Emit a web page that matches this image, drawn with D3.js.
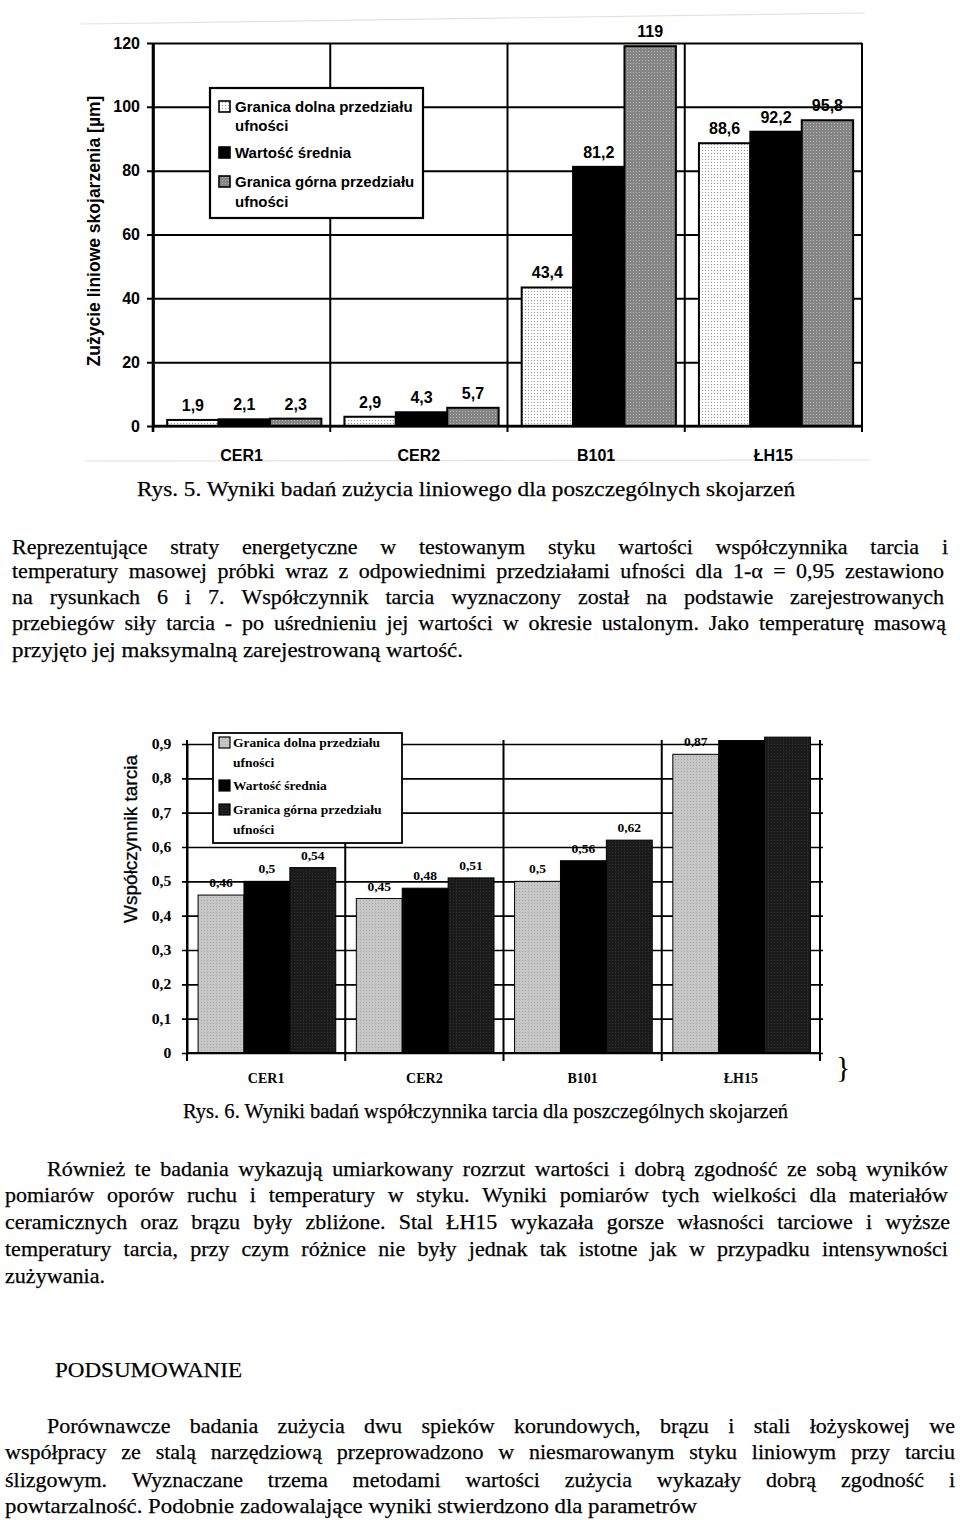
<!DOCTYPE html>
<html><head><meta charset="utf-8">
<script src="https://cdn.jsdelivr.net/npm/d3@7"></script>
<style>body{margin:0;background:#fff}svg{display:block}</style>
</head><body>
<svg id="page" width="960" height="1520"></svg>
<script>
// ---------------- DATA ----------------
const categories = ["CER1", "CER2", "B101", "ŁH15"];
const seriesKeys = ["lower", "mean", "upper"];
const legendLines = [
  ["Granica dolna przedziału", "ufności"],
  ["Wartość średnia"],
  ["Granica górna przedziału", "ufności"]
];
// Rys. 5 – linear wear [µm]
const wearLower = [1.9, 2.9, 43.4, 88.6];
const wearMean  = [2.1, 4.3, 81.2, 92.2];
const wearUpper = [2.3, 5.7, 119, 95.8];
const wearLowerLabels = ["1,9", "2,9", "43,4", "88,6"];
const wearMeanLabels  = ["2,1", "4,3", "81,2", "92,2"];
const wearUpperLabels = ["2,3", "5,7", "119", "95,8"];
const wearTicks = [0, 20, 40, 60, 80, 100, 120];
const wearTickLabels = ["0", "20", "40", "60", "80", "100", "120"];
const wearTitle = "Zużycie liniowe skojarzenia [µm]";
// Rys. 6 – friction coefficient
const frictionLower = [0.46, 0.45, 0.5, 0.87];
const frictionMean  = [0.5, 0.48, 0.56, 0.91];
const frictionUpper = [0.54, 0.51, 0.62, 0.92];
const frictionLowerLabels = ["0,46", "0,45", "0,5", "0,87"];
const frictionMeanLabels  = ["0,5", "0,48", "0,56", ""];
const frictionUpperLabels = ["0,54", "0,51", "0,62", ""];
const frictionTicks = [0, 0.1, 0.2, 0.3, 0.4, 0.5, 0.6, 0.7, 0.8, 0.9];
const frictionTickLabels = ["0", "0,1", "0,2", "0,3", "0,4", "0,5", "0,6", "0,7", "0,8", "0,9"];
const frictionTitle = "Współczynnik tarcia";
// Text
const caption5 = "Rys. 5. Wyniki badań zużycia liniowego dla poszczególnych skojarzeń";
const para1 = [
  "Reprezentujące straty energetyczne w testowanym styku wartości współczynnika tarcia i",
  "temperatury masowej próbki wraz z odpowiednimi przedziałami ufności dla 1-α = 0,95 zestawiono",
  "na rysunkach 6 i 7. Współczynnik tarcia wyznaczony został na podstawie zarejestrowanych",
  "przebiegów siły tarcia - po uśrednieniu jej wartości w okresie ustalonym. Jako temperaturę masową",
  "przyjęto jej maksymalną zarejestrowaną wartość."
];
const caption6 = "Rys. 6. Wyniki badań współczynnika tarcia dla poszczególnych skojarzeń";
const para2 = [
  "Również te badania wykazują umiarkowany rozrzut wartości i dobrą zgodność ze sobą wyników",
  "pomiarów oporów ruchu i temperatury w styku. Wyniki pomiarów tych wielkości dla materiałów",
  "ceramicznych oraz brązu były zbliżone. Stal ŁH15 wykazała gorsze własności tarciowe i wyższe",
  "temperatury tarcia, przy czym różnice nie były jednak tak istotne jak w przypadku intensywności",
  "zużywania."
];
const heading = "PODSUMOWANIE";
const para3 = [
  "Porównawcze badania zużycia dwu spieków korundowych, brązu i stali łożyskowej we",
  "współpracy ze stalą narzędziową przeprowadzono w niesmarowanym styku liniowym przy tarciu",
  "ślizgowym. Wyznaczane trzema metodami wartości zużycia wykazały dobrą zgodność i",
  "powtarzalność. Podobnie zadowalające wyniki stwierdzono dla parametrów"
];

// ---------------- SETUP ----------------
const svg = d3.select("#page");
svg.append("rect").attr("width", 960).attr("height", 1520).attr("fill", "#fff");
const defs = svg.append("defs");
function dotPattern(id, bg, dot, size) {
  const p = defs.append("pattern").attr("id", id).attr("patternUnits", "userSpaceOnUse")
    .attr("width", size).attr("height", size);
  p.append("rect").attr("width", size).attr("height", size).attr("fill", bg);
  p.append("rect").attr("width", 1).attr("height", 1).attr("fill", dot);
}
dotPattern("w1lower", "#ffffff", "#9a9a9a", 3);
dotPattern("w1upper", "#858585", "#b5b5b5", 3);
dotPattern("f2lower", "#c6c6c6", "#a9a9a9", 3);
dotPattern("f2upper", "#1b1b1b", "#2e2e2e", 3);

// faint scan edges
svg.append("line").attr("x1", 80).attr("y1", 24).attr("x2", 865).attr("y2", 13)
  .attr("stroke", "#e2e2e2").attr("stroke-width", 1.2);
svg.append("line").attr("x1", 85).attr("y1", 461).attr("x2", 870).attr("y2", 460)
  .attr("stroke", "#e2e2e2").attr("stroke-width", 1.2);

// ---------------- CHART 1 ----------------
(function () {
  const L = 153, R = 862, T = 43, B = 426;
  const font = "'Liberation Sans', Arial, sans-serif";
  const g = svg.append("g").attr("font-family", font).attr("font-weight", "bold");
  const y = d3.scaleLinear().domain([0, 120]).range([B, T]);
  const x = d3.scaleBand().domain(categories).range([L, R]);
  const bw = x.bandwidth();
  const xs = d3.scaleBand().domain(seriesKeys).range([bw * 0.08, bw * 0.95]);

  const yAxis = g.append("g").attr("transform", `translate(${L},0)`)
    .call(d3.axisLeft(y).tickValues(wearTicks).tickFormat((d, i) => wearTickLabels[i])
      .tickSize(-(R - L)).tickSizeOuter(0).tickPadding(13));
  yAxis.selectAll(".tick line").attr("x1", -6).attr("stroke", "#000").attr("stroke-width", 2);
  yAxis.selectAll(".tick text").attr("font-size", 16).attr("fill", "#000").attr("font-family", font);
  yAxis.select(".domain").attr("stroke", "#000").attr("stroke-width", 2.6);

  const bounds = categories.map(c => x(c)).concat([R]);
  g.selectAll("line.vb").data(bounds).join("line").attr("class", "vb")
    .attr("x1", d => d).attr("x2", d => d).attr("y1", T).attr("y2", B + 6)
    .attr("stroke", "#000").attr("stroke-width", (d, i) => i === 0 ? 2.6 : 2);

  const data = [
    {key: "lower", vals: wearLower, labels: wearLowerLabels, fill: "url(#w1lower)"},
    {key: "mean", vals: wearMean, labels: wearMeanLabels, fill: "#000"},
    {key: "upper", vals: wearUpper, labels: wearUpperLabels, fill: "url(#w1upper)"}
  ];
  data.forEach(s => {
    g.selectAll(null).data(categories).join("rect")
      .attr("x", c => x(c) + xs(s.key)).attr("width", xs.bandwidth())
      .attr("y", (c, i) => y(s.vals[i])).attr("height", (c, i) => B - y(s.vals[i]))
      .attr("fill", s.fill).attr("stroke", "#000").attr("stroke-width", 2);
    g.selectAll(null).data(categories).join("text")
      .attr("x", c => x(c) + xs(s.key) + xs.bandwidth() / 2)
      .attr("y", (c, i) => y(s.vals[i]) - 9)
      .attr("text-anchor", "middle").attr("font-size", 16).attr("fill", "#000")
      .text((c, i) => s.labels[i]);
  });

  g.append("line").attr("x1", L).attr("x2", R).attr("y1", B).attr("y2", B)
    .attr("stroke", "#000").attr("stroke-width", 2.4);
  const xAxis = g.append("g").attr("transform", `translate(0,${B})`)
    .call(d3.axisBottom(x).tickSize(0).tickPadding(24));
  xAxis.select(".domain").remove();
  xAxis.selectAll("text").attr("font-size", 16).attr("fill", "#000").attr("font-family", font);

  g.append("text").attr("transform", `translate(100,231) rotate(-90)`)
    .attr("text-anchor", "middle").attr("font-size", 17.5).text(wearTitle);

  // legend
  const lg = g.append("g");
  lg.append("rect").attr("x", 210).attr("y", 88).attr("width", 213).attr("height", 130)
    .attr("fill", "#fff").attr("stroke", "#000").attr("stroke-width", 2.2);
  const fills = ["url(#w1lower)", "#000", "url(#w1upper)"];
  const baselines = [[112, 131], [158], [187, 207]];
  legendLines.forEach((lines, i) => {
    lg.append("rect").attr("x", 219).attr("y", baselines[i][0] - 11).attr("width", 11).attr("height", 11)
      .attr("fill", fills[i]).attr("stroke", "#000").attr("stroke-width", 1.6);
    lines.forEach((t, j) => lg.append("text").attr("x", 235).attr("y", baselines[i][j])
      .attr("font-size", 15).text(t));
  });
})();

// ---------------- CHART 2 ----------------
(function () {
  const L = 187, R = 820, T = 744, B = 1053;
  const font = "'Liberation Serif', 'Times New Roman', serif";
  const g = svg.append("g").attr("font-family", font).attr("font-weight", "bold");
  const y = d3.scaleLinear().domain([0, 0.9]).range([B, T]);
  const x = d3.scaleBand().domain(categories).range([L, R]);
  const bw = x.bandwidth();
  const xs = d3.scaleBand().domain(seriesKeys).range([bw * 0.07, bw * 0.94]);

  const yAxis = g.append("g").attr("transform", `translate(${L},0)`)
    .call(d3.axisLeft(y).tickValues(frictionTicks).tickFormat((d, i) => frictionTickLabels[i])
      .tickSize(-(R - L)).tickSizeOuter(0).tickPadding(14));
  yAxis.selectAll(".tick line").attr("x1", -5).attr("x2", R - L + 3).attr("stroke", "#000").attr("stroke-width", 1.7);
  yAxis.selectAll(".tick text").attr("font-size", 14).attr("fill", "#000").attr("font-family", font)
    .attr("transform", "scale(1.12,1)");
  yAxis.select(".domain").attr("stroke", "#000").attr("stroke-width", 2);

  const bounds = categories.map(c => x(c)).concat([R]);
  g.selectAll("line.vb").data(bounds).join("line").attr("class", "vb")
    .attr("x1", d => d).attr("x2", d => d).attr("y1", T - 4).attr("y2", B + 8)
    .attr("stroke", "#000").attr("stroke-width", 2);

  const lg = g.append("g");
  lg.append("rect").attr("x", 213).attr("y", 733).attr("width", 189).attr("height", 110)
    .attr("fill", "#fff").attr("stroke", "#000").attr("stroke-width", 1.8);
  const fills = ["url(#f2lower)", "#000", "url(#f2upper)"];
  const baselines = [[747, 767], [790], [814, 834]];
  legendLines.forEach((lines, i) => {
    lg.append("rect").attr("x", 219).attr("y", baselines[i][0] - 10).attr("width", 11).attr("height", 11)
      .attr("fill", fills[i]).attr("stroke", "#000").attr("stroke-width", 1.2);
    lines.forEach((t, j) => lg.append("text").attr("x", 233).attr("y", baselines[i][j])
      .attr("font-size", 13.5).text(t));
  });

  const data = [
    {key: "lower", vals: frictionLower, labels: frictionLowerLabels, fill: "url(#f2lower)"},
    {key: "mean", vals: frictionMean, labels: frictionMeanLabels, fill: "#000"},
    {key: "upper", vals: frictionUpper, labels: frictionUpperLabels, fill: "url(#f2upper)"}
  ];
  data.forEach(s => {
    g.selectAll(null).data(categories).join("rect")
      .attr("x", c => x(c) + xs(s.key)).attr("width", xs.bandwidth())
      .attr("y", (c, i) => y(s.vals[i])).attr("height", (c, i) => B - y(s.vals[i]))
      .attr("fill", s.fill).attr("stroke", "#000").attr("stroke-width", 1);
    g.selectAll(null).data(categories).join("text")
      .attr("x", c => x(c) + xs(s.key) + xs.bandwidth() / 2)
      .attr("y", (c, i) => y(s.vals[i]) - 8)
      .attr("text-anchor", "middle").attr("font-size", 13.5).attr("fill", "#000")
      .text((c, i) => s.labels[i]);
  });

  g.append("line").attr("x1", L).attr("x2", R).attr("y1", B).attr("y2", B)
    .attr("stroke", "#000").attr("stroke-width", 2);
  const xAxis = g.append("g").attr("transform", `translate(0,${B})`)
    .call(d3.axisBottom(x).tickSize(0).tickPadding(20));
  xAxis.select(".domain").remove();
  xAxis.selectAll("text").attr("font-size", 14).attr("fill", "#000").attr("font-family", font);

  svg.append("text").attr("transform", `translate(137,839) rotate(-90)`)
    .attr("text-anchor", "middle").attr("font-family", "'Liberation Sans', Arial, sans-serif")
    .attr("font-size", 19).attr("fill", "#000").attr("stroke", "#000").attr("stroke-width", 0.3)
    .text(frictionTitle);

  svg.append("text").attr("x", 836).attr("y", 1077).attr("font-family", font)
    .attr("font-size", 30).text("}");
})();

// ---------------- TEXT ----------------
const tg = svg.append("g").attr("font-family", "'Liberation Serif', 'Times New Roman', serif")
  .attr("font-size", 22).attr("fill", "#000").attr("stroke", "#000").attr("stroke-width", 0.25);
function drawLine(str, x0, x1, yb, justify) {
  if (!justify) {
    tg.append("text").attr("x", x0).attr("y", yb).attr("textLength", x1 - x0)
      .attr("lengthAdjust", "spacingAndGlyphs").text(str);
    return;
  }
  const words = str.split(" ");
  const ts = words.map(w => tg.append("text").attr("y", yb).text(w));
  let widths = ts.map(t => t.node().getComputedTextLength());
  const total = d3.sum(widths);
  const minGap = 4;
  let gap = (x1 - x0 - total) / (words.length - 1);
  if (gap < minGap) {
    const s = (x1 - x0 - minGap * (words.length - 1)) / total;
    widths = widths.map(w => w * s);
    ts.forEach((t, i) => t.attr("textLength", widths[i]).attr("lengthAdjust", "spacingAndGlyphs"));
    gap = minGap;
  }
  let xx = x0;
  ts.forEach((t, i) => { t.attr("x", xx); xx += widths[i] + gap; });
}
drawLine(caption5, 137, 795, 496, false);
const p1x = [[12, 948, 1], [12, 944, 1], [12, 944, 1], [12, 946, 1], [12, 463, 0]];
const p1y = [554, 578, 604, 630, 657];
para1.forEach((s, i) => drawLine(s, p1x[i][0], p1x[i][1], p1y[i], !!p1x[i][2]));
drawLine(caption6, 183, 788, 1118, false);
const p2x = [[47, 948, 1], [5, 948, 1], [5, 950, 1], [5, 948, 1], [5, 105, 0]];
const p2y = [1176, 1202, 1229, 1256, 1283];
para2.forEach((s, i) => drawLine(s, p2x[i][0], p2x[i][1], p2y[i], !!p2x[i][2]));
drawLine(heading, 55, 242, 1377, false);
const p3x = [[47, 955, 1], [5, 955, 1], [5, 955, 1], [5, 697, 0]];
const p3y = [1433, 1459, 1487, 1513];
para3.forEach((s, i) => drawLine(s, p3x[i][0], p3x[i][1], p3y[i], !!p3x[i][2]));
</script>
</body></html>
